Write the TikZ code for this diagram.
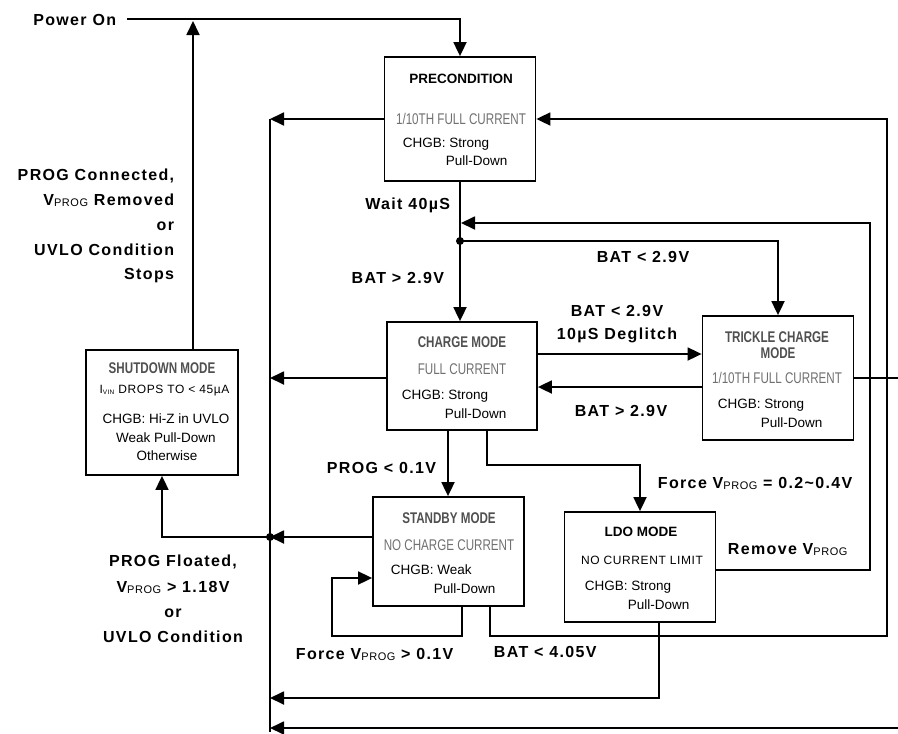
\documentclass[tikz,border=0pt]{standalone}
\usepackage{fontspec}
\usetikzlibrary{arrows.meta}
\setmainfont{Liberation Sans}
\newfontfamily\lblfont[LetterSpace=8.5]{Liberation Sans}
\newfontfamily\condfont[FakeStretch=0.75]{Liberation Sans}
\newfontfamily\spfont[LetterSpace=5]{Liberation Sans}
\newcommand\vsub{V\raisebox{-1.8pt}{\spfont\mdseries\fontsize{11}{12}\selectfont PROG}}
\definecolor{ttlgray}{RGB}{80,80,80}
\definecolor{subgray}{RGB}{112,112,112}
\begin{document}
\begin{tikzpicture}[x=1pt,y=-1pt,line width=1.8pt,
  arr/.style={-{Triangle[length=14pt,width=13pt]}},
  box/.style={draw,line width=1.8pt,inner sep=0pt,minimum width=151pt},
  lbl/.style={font=\lblfont\bfseries\fontsize{16}{18}\selectfont,inner sep=0pt,anchor=base},
  ttl/.style={font=\condfont\bfseries\fontsize{15.5}{17}\selectfont,text=ttlgray,inner sep=0pt,anchor=base},
  subl/.style={font=\condfont\fontsize{15.5}{17}\selectfont,text=subgray,inner sep=0pt,anchor=base},
  blk/.style={font=\bfseries\fontsize{13.5}{16}\selectfont,inner sep=0pt,anchor=base},
  body/.style={font=\fontsize{13.5}{16}\selectfont,inner sep=0pt,anchor=base west},
  bodyc/.style={font=\fontsize{13.5}{16}\selectfont,inner sep=0pt,anchor=base},
  spaced/.style={font=\spfont\fontsize{12}{14}\selectfont,inner sep=0pt,anchor=base}]
\useasboundingbox (0,0) rectangle (898,734);

% boxes
\node[box,minimum height=124pt] (pre) at (460,119) {};
\node[box,minimum width=150pt,minimum height=108pt] (charge) at (462,376) {};
\node[box,minimum height=124pt] (trickle) at (778,378) {};
\node[box,minimum height=109pt] (standby) at (448.5,551.5) {};
\node[box,minimum height=110pt] (ldo) at (640,567) {};
\node[box,minimum width=152pt,minimum height=125pt] (shutdown) at (162,412.5) {};

% box texts
\node[blk] (preT) at (461,83) {PRECONDITION};
\node[subl] (preS) at (461,124) {1/10TH FULL CURRENT};
\node[body] (preC) at (402,147) {CHGB: Strong};
\node[body] (preP) at (445,165) {Pull-Down};

\node[ttl] (chT) at (462,347) {CHARGE MODE};
\node[subl] (chS) at (462,374) {FULL CURRENT};
\node[body] (chC) at (401,399) {CHGB: Strong};
\node[body] (chP) at (444,418) {Pull-Down};

\node[ttl] (trT1) at (777,342) {TRICKLE CHARGE};
\node[ttl] (trT2) at (778,358) {MODE};
\node[subl] (trS) at (777,383) {1/10TH FULL CURRENT};
\node[body] (trC) at (717,408) {CHGB: Strong};
\node[body] (trP) at (760,427) {Pull-Down};

\node[ttl] (sbT) at (449,523) {STANDBY MODE};
\node[subl] (sbS) at (449,550) {NO CHARGE CURRENT};
\node[body] (sbC) at (390,574) {CHGB: Weak};
\node[body] (sbP) at (433,593) {Pull-Down};

\node[blk] (ldT) at (641,536) {LDO MODE};
\node[spaced] (ldS) at (642,564) {NO CURRENT LIMIT};
\node[body] (ldC) at (584,590) {CHGB: Strong};
\node[body] (ldP) at (627,609) {Pull-Down};

\node[ttl] (sdT) at (162,373) {SHUTDOWN MODE};
\node[spaced] (sdS) at (164.5,393) {I\raisebox{-1pt}{\fontsize{6.5}{7}\selectfont VIN} DROPS TO < 45µA};
\node[bodyc] (sdC1) at (166,423) {CHGB: Hi-Z in UVLO};
\node[bodyc] (sdC2) at (166,442) {Weak Pull-Down};
\node[bodyc] (sdC3) at (167,460) {Otherwise};

% labels
\node[lbl,anchor=base east] (lPower) at (117,25) {Power On};
\node[lbl,anchor=base east] (lWait) at (451,209) {Wait 40µS};
\node[lbl,anchor=base east] (lBat1) at (445,283) {BAT > 2.9V};
\node[lbl] (lBat2) at (643,262) {BAT < 2.9V};
\node[lbl] (lBat3) at (617,316) {BAT < 2.9V};
\node[lbl] (lDeg) at (617,339) {10µS Deglitch};
\node[lbl] (lBat4) at (621,416) {BAT > 2.9V};
\node[lbl,anchor=base east] (lProg) at (437,473) {PROG < 0.1V};
\node[lbl,anchor=base west] (lForce1) at (657,488) {Force \vsub{} = 0.2\textasciitilde0.4V};
\node[lbl,anchor=base west] (lRemove) at (727,554) {Remove \vsub};
\node[lbl,anchor=base west] (lBat5) at (493,657) {BAT < 4.05V};
\node[lbl,anchor=base west] (lForce2) at (295,659) {Force \vsub{} > 0.1V};
\node[lbl,anchor=base east] (lTop1) at (175,180) {PROG Connected,};
\node[lbl,anchor=base east] (lTop2) at (175,205) {\vsub{} Removed};
\node[lbl,anchor=base east] (lTop3) at (175,230) {or};
\node[lbl,anchor=base east] (lTop4) at (175,255) {UVLO Condition};
\node[lbl,anchor=base east] (lTop5) at (175,279) {Stops};
\node[lbl] (lBot1) at (173,566) {PROG Floated,};
\node[lbl] (lBot2) at (173,592) {\vsub{} > 1.18V};
\node[lbl] (lBot3) at (173,617) {or};
\node[lbl] (lBot4) at (173,642) {UVLO Condition};

% coordinates
\coordinate (pwrS) at (127,19);
\coordinate (Ltop) at (270,119);
\coordinate (Lbot) at (270,732);
\coordinate (jdot) at (460,241);
\coordinate (jdot2) at (270,537);
\coordinate (rvA) at (870,570);
\coordinate (rvB) at (870,223);
\coordinate (rvC) at (461,223);
\coordinate (edgeR) at (898,378);
\coordinate (edgeB) at (898,728);
\coordinate (sdTop) at (193,21);

% connectors
\draw[arr] (pwrS) -| (pre.north);
\draw (Ltop) -- (Lbot);
\draw[arr] (pre.west) -- (Ltop);
\draw (pre.south) -- (jdot);
\draw[arr] (jdot) -- (jdot |- charge.north);
\draw[arr] (jdot) -| (trickle.north);
\draw[arr] (ldo.east |- rvA) -- (rvA) -- (rvB) -- (rvC);
\draw[arr] (charge.east |- 0,354) -- (trickle.west |- 0,354);
\draw[arr] (trickle.west |- 0,387) -- (charge.east |- 0,387);
\draw (trickle.east) -- (edgeR);
\draw[arr] (charge.west |- 0,378) -- (Ltop |- 0,378);
\draw[arr] (charge.south -| 448,0) -- (standby.north -| 448,0);
\draw[arr] (charge.south -| 487,0) -- (487,465) -| (ldo.north);
\draw[arr] (standby.west |- jdot2) -- (jdot2);
\draw[arr] (jdot2) -| (shutdown.south);
\draw[arr] (shutdown.north -| sdTop) -- (sdTop);
\draw[arr] (standby.south -| 462,0) -- (462,636) -| (332,578) -- (standby.west |- 0,578);
\draw[arr] (standby.south -| 490,0) -- (490,636) -| (887,119) -- (pre.east);
\draw[arr] (ldo.south -| 659,0) |- (Ltop |- 0,698);
\draw[arr] (edgeB) -- (Ltop |- edgeB);
\fill (jdot) circle (4pt);
\fill (jdot2) circle (4pt);
\end{tikzpicture}
\end{document}
